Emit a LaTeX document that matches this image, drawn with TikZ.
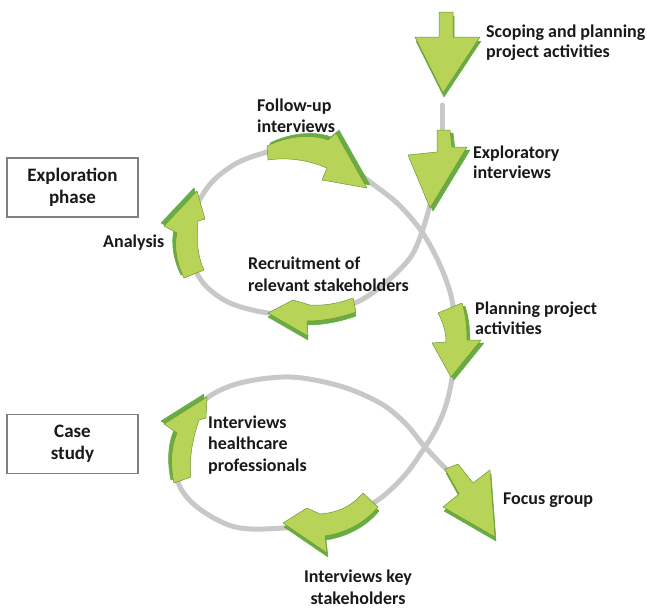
\documentclass[tikz,border=0pt]{standalone}
\usepackage{fontspec}
\setmainfont{Carlito}
\definecolor{agreen}{RGB}{183,212,88}
\definecolor{dgreen}{RGB}{104,172,68}
\definecolor{egreen}{RGB}{110,150,55}
\definecolor{lgray}{RGB}{200,200,200}
\definecolor{boxgray}{RGB}{128,128,128}
\definecolor{txt}{RGB}{25,25,25}
\def\pSC{(439,12) -- (453,12) -- (453,37) -- (480,37) -- (443,93) -- (415,37) -- (439,37) -- cycle}
\def\pEX{(437,130) -- (450,130) -- (452,147) -- (467,147) -- (430,208) -- (408,155) -- (437,152) -- cycle}
\def\pFU{(267,146) .. controls (285,137) and (310,133) .. (328,140) -- (336,133) -- (367,188) -- (322,180) -- (327,168) .. controls (308,160) and (288,157) .. (268,160) -- cycle}
\def\pAN{(197,191) -- (205,219) -- (198,221) .. controls (196,240) and (198,258) .. (204,270) -- (184,278) .. controls (176,262) and (174,245) .. (177,233) -- (164,226) -- cycle}
\def\pRC{(353,298) .. controls (340,303) and (325,306) .. (310,305) -- (293,300) -- (268,313) -- (308,336) -- (307,321) .. controls (325,321) and (342,317) .. (356,312) -- cycle}
\def\pPL{(438,313) -- (462,303) .. controls (466,315) and (467,328) .. (467,340) -- (481,340) -- (451,377) -- (432,343) -- (446,342) .. controls (446,332) and (443,322) .. (438,313) -- cycle}
\def\pHC{(207,397) -- (206,418) -- (199,420) .. controls (192,440) and (189,460) .. (191,477) -- (174,483) .. controls (170,465) and (171,447) .. (177,433) -- (164,424) -- cycle}
\def\pKS{(363,493) .. controls (350,508) and (335,513) .. (320,514) -- (307,508) -- (283,523) -- (327,553) -- (325,536) .. controls (345,533) and (365,523) .. (378,507) -- cycle}
\def\pFG{(445,469) -- (458,464) -- (473,483) -- (490,470) -- (495,537) -- (443,507) -- (459,494) -- cycle}
\begin{document}
\begin{tikzpicture}[x=1pt,y=-1pt,
  lbl/.style={font=\fontsize{18}{21.5}\selectfont\bfseries, text=txt, inner sep=0pt, align=left},
  lbltight/.style={lbl, font=\fontsize{18}{20}\selectfont\bfseries},
  phasebox/.style={draw=boxgray, line width=1.4pt, fill=white, minimum width=131pt, minimum height=59pt, align=center, font=\fontsize{19}{22}\selectfont\bfseries, text=txt},
  track/.style={draw=lgray, line width=5pt, line cap=round},
  aface/.style={fill=agreen, draw=egreen, line width=0.5pt, line join=round},
  ashade/.style={fill=dgreen, draw=dgreen, line width=0.5pt, line join=round}]
\fill[white] (0,0) rectangle (649,613);
\useasboundingbox (0,0) rectangle (649,613);
% track
\draw[track] (442,105) -- (442,129);
\draw[track] plot[smooth, tension=0.55] coordinates {
 (430,205) (422,232) (410,258) (385,283) (355,303) (310,314) (268,313)
 (230,303) (205,285) (191,260) (189,233) (196,207) (212,182) (237,163)
 (267,152) (300,144) (335,152) (365,178) (397,203) (422,232) (440,265)
 (452,300) (455,340) (452,378) (446,405) (437,427) (425,447) (405,475)
 (378,500) (340,520) (283,528) (235,527) (197,507) (178,482) (180,450)
 (192,420) (207,398) (240,383) (290,377) (340,386) (380,403) (405,423)
 (425,447) (447,470)};
% arrows
\fill[ashade, shift={(1,4)}] \pSC; \filldraw[aface] \pSC;
\fill[ashade, shift={(3,3)}] \pEX; \filldraw[aface] \pEX;
\fill[ashade, shift={(3,-3)}] \pFU; \filldraw[aface] \pFU;
\fill[ashade, shift={(-3,-3)}] \pAN; \filldraw[aface] \pAN;
\fill[ashade, shift={(0,4)}] \pRC; \filldraw[aface] \pRC;
\fill[ashade, shift={(3,3)}] \pPL; \filldraw[aface] \pPL;
\fill[ashade, shift={(-3,-3)}] \pHC; \filldraw[aface] \pHC;
\fill[ashade, shift={(1,4)}] \pKS; \filldraw[aface] \pKS;
\fill[ashade, shift={(1,4)}] \pFG; \filldraw[aface] \pFG;
% boxes
\node[phasebox] (expl) at (72.5,187.5) {Exploration\\phase};
\node[phasebox] (case) at (72.5,444) {Case\\study};
% labels
\node[lbltight, anchor=west] (tSC) at (486,43) {Scoping and planning\\project activities};
\node[lbltight, anchor=west] (tEX) at (473,162) {Exploratory\\interviews};
\node[lbl, anchor=west] (tFU) at (257,116) {Follow-up\\interviews};
\node[lbl, anchor=west] (tAN) at (103,243) {Analysis};
\node[lbl, anchor=west] (tRC) at (248,274) {Recruitment of\\relevant stakeholders};
\node[lbltight, anchor=west] (tPL) at (475,318) {Planning project\\activities};
\node[lbl, anchor=west] (tHC) at (208,445) {Interviews\\healthcare\\professionals};
\node[lbl, anchor=west] (tFG) at (503,500) {Focus group};
\node[lbl, align=center] (tKS) at (358,587) {Interviews key\\stakeholders};
\end{tikzpicture}
\end{document}
